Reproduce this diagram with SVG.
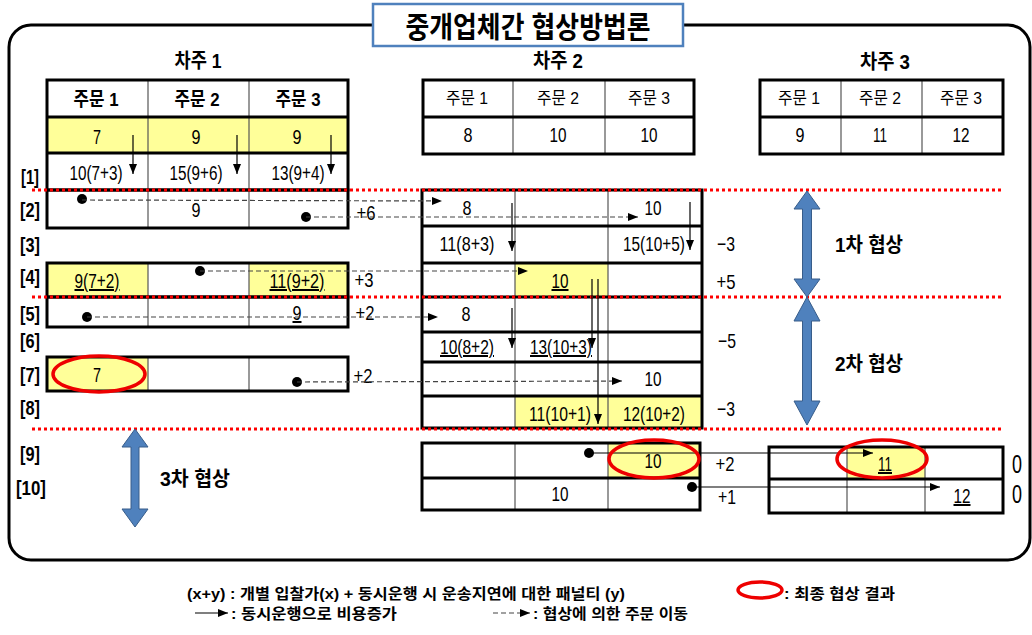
<svg xmlns="http://www.w3.org/2000/svg" width="1032" height="635" viewBox="0 0 1032 635">
<style>
text{font-family:"Liberation Sans","Noto Sans CJK KR",sans-serif;fill:#000}
.ti{font-size:29px;font-weight:bold;text-anchor:middle}
.cap{font-size:20px;font-weight:bold;text-anchor:middle}
.hb{font-size:19px;font-weight:bold;text-anchor:middle}
.hn{font-size:17px;text-anchor:middle}
.v{font-size:20px;text-anchor:middle}
.u{text-decoration:underline}
.rl{font-size:20px;font-weight:bold;text-anchor:middle}
.d{font-size:21px;text-anchor:middle}
.z{font-size:25px;text-anchor:middle}
.ng{font-size:20px;font-weight:bold;text-anchor:middle}
.lg{font-size:15px;font-weight:bold}
.box{fill:none;stroke:#000;stroke-width:3}
.hl{stroke:#000;stroke-width:3}
.vl{stroke:#555;stroke-width:1.2}
.yel{fill:#FFFF99}
.red{stroke:#F00;stroke-width:3;stroke-dasharray:3 3;fill:none}
.dash{stroke:#444;stroke-width:1.2;stroke-dasharray:5 3;fill:none}
.sol{stroke:#000;stroke-width:1.2;fill:none}
.ell{fill:none;stroke:#E00;stroke-width:3.5}
.big{fill:#4F81BD;stroke:#385D8A;stroke-width:1}
</style>
<defs>
<marker id="ah" markerWidth="10" markerHeight="8" refX="10" refY="4" orient="auto" markerUnits="userSpaceOnUse"><path d="M0,0 L10,4 L0,8 z" fill="#000"/></marker>
</defs>
<rect x="9" y="25" width="1021" height="535" rx="22" fill="none" stroke="#000" stroke-width="3"/>
<g id="title">
<rect x="373" y="4" width="310" height="42" fill="#fff" stroke="#4F81BD" stroke-width="2.5"/>
<text class="ti" x="528" y="38" textLength="245" lengthAdjust="spacingAndGlyphs">중개업체간 협상방법론</text>
</g>
<g id="table1">
<text class="cap" x="198" y="68" textLength="47" lengthAdjust="spacingAndGlyphs">차주 1</text>
<rect class="yel" x="47" y="117" width="301" height="36"/>
<line class="vl" x1="148" y1="80" x2="148" y2="190"/><line class="vl" x1="249" y1="80" x2="249" y2="190"/>
<rect class="box" x="47" y="80" width="301" height="110"/>
<line class="hl" x1="47" y1="117" x2="348" y2="117"/><line class="hl" x1="47" y1="153" x2="348" y2="153"/>
<text class="hb" x="96" y="106" textLength="45" lengthAdjust="spacingAndGlyphs">주문 1</text><text class="hb" x="197" y="106" textLength="45" lengthAdjust="spacingAndGlyphs">주문 2</text><text class="hb" x="298" y="106" textLength="45" lengthAdjust="spacingAndGlyphs">주문 3</text>
<text class="v" x="97" y="144" textLength="8" lengthAdjust="spacingAndGlyphs">7</text><text class="v" x="196" y="144" textLength="9" lengthAdjust="spacingAndGlyphs">9</text><text class="v" x="297" y="144" textLength="9" lengthAdjust="spacingAndGlyphs">9</text>
<text class="v" x="96" y="180" textLength="53" lengthAdjust="spacingAndGlyphs">10(7+3)</text><text class="v" x="196" y="180" textLength="53" lengthAdjust="spacingAndGlyphs">15(9+6)</text><text class="v" x="298" y="180" textLength="53" lengthAdjust="spacingAndGlyphs">13(9+4)</text>
</g>
<g id="table1-r2">
<line class="vl" x1="148" y1="190" x2="148" y2="228"/><line class="vl" x1="249" y1="190" x2="249" y2="228"/>
<rect class="box" x="47" y="190" width="301" height="38"/>
<text class="v" x="196" y="217" textLength="9" lengthAdjust="spacingAndGlyphs">9</text>
</g>
<g id="table1-r4">
<rect class="yel" x="47" y="263" width="101" height="34"/><rect class="yel" x="249" y="263" width="99" height="34"/>
<line class="vl" x1="148" y1="263" x2="148" y2="297"/><line class="vl" x1="249" y1="263" x2="249" y2="297"/>
<rect class="box" x="47" y="263" width="301" height="34"/>
<text class="v u" x="97" y="288" textLength="45" lengthAdjust="spacingAndGlyphs">9(7+2)</text><text class="v u" x="297" y="288" textLength="55" lengthAdjust="spacingAndGlyphs">11(9+2)</text>
</g>
<g id="table1-r5">
<line class="vl" x1="148" y1="297" x2="148" y2="327"/><line class="vl" x1="249" y1="297" x2="249" y2="327"/>
<rect class="box" x="47" y="297" width="301" height="30"/>
<text class="v u" x="297" y="320" textLength="9" lengthAdjust="spacingAndGlyphs">9</text>
</g>
<g id="table1-r7">
<rect class="yel" x="47" y="357" width="101" height="34"/>
<line class="vl" x1="148" y1="357" x2="148" y2="391"/><line class="vl" x1="249" y1="357" x2="249" y2="391"/>
<rect class="box" x="47" y="357" width="301" height="34"/>
<text class="v" x="97" y="382" textLength="8" lengthAdjust="spacingAndGlyphs">7</text>
<ellipse class="ell" cx="99" cy="374" rx="46" ry="18"/>
</g>
<g id="table2">
<text class="cap" x="558" y="68" textLength="50" lengthAdjust="spacingAndGlyphs">차주 2</text>
<line class="vl" x1="513" y1="80" x2="513" y2="154"/><line class="vl" x1="605" y1="80" x2="605" y2="154"/>
<rect class="box" x="423" y="80" width="271" height="74"/>
<line class="hl" x1="423" y1="117" x2="694" y2="117"/>
<text class="hn" x="467" y="104" textLength="42" lengthAdjust="spacingAndGlyphs">주문 1</text><text class="hn" x="558" y="104" textLength="42" lengthAdjust="spacingAndGlyphs">주문 2</text><text class="hn" x="649" y="104" textLength="42" lengthAdjust="spacingAndGlyphs">주문 3</text>
<text class="v" x="468" y="142" textLength="9" lengthAdjust="spacingAndGlyphs">8</text><text class="v" x="558" y="142" textLength="17" lengthAdjust="spacingAndGlyphs">10</text><text class="v" x="649" y="142" textLength="17" lengthAdjust="spacingAndGlyphs">10</text>
</g>
<g id="table3">
<text class="cap" x="885" y="69" textLength="50" lengthAdjust="spacingAndGlyphs">차주 3</text>
<line class="vl" x1="841" y1="80" x2="841" y2="154"/><line class="vl" x1="922" y1="80" x2="922" y2="154"/>
<rect class="box" x="760" y="80" width="243" height="74"/>
<line class="hl" x1="760" y1="117" x2="1003" y2="117"/>
<text class="hn" x="799" y="104" textLength="42" lengthAdjust="spacingAndGlyphs">주문 1</text><text class="hn" x="880" y="104" textLength="42" lengthAdjust="spacingAndGlyphs">주문 2</text><text class="hn" x="961" y="104" textLength="42" lengthAdjust="spacingAndGlyphs">주문 3</text>
<text class="v" x="800" y="142" textLength="9" lengthAdjust="spacingAndGlyphs">9</text><text class="v" x="880" y="142" textLength="14" lengthAdjust="spacingAndGlyphs">11</text><text class="v" x="961" y="142" textLength="17" lengthAdjust="spacingAndGlyphs">12</text>
</g>
<g id="table2-rounds">
<rect class="yel" x="515" y="263" width="93" height="34"/>
<rect class="yel" x="515" y="396" width="93" height="32"/><rect class="yel" x="608" y="396" width="94" height="32"/>
<line class="vl" x1="515" y1="190" x2="515" y2="428"/><line class="vl" x1="608" y1="190" x2="608" y2="428"/>
<rect class="box" x="422" y="190" width="280" height="238"/>
<line class="hl" x1="422" y1="226" x2="702" y2="226"/><line class="hl" x1="422" y1="263" x2="702" y2="263"/>
<line class="hl" x1="422" y1="297" x2="702" y2="297"/><line class="hl" x1="422" y1="332" x2="702" y2="332"/>
<line class="hl" x1="422" y1="362" x2="702" y2="362"/><line class="hl" x1="422" y1="396" x2="702" y2="396"/>
<text class="v" x="467" y="215" textLength="9" lengthAdjust="spacingAndGlyphs">8</text><text class="v" x="653" y="215" textLength="17" lengthAdjust="spacingAndGlyphs">10</text>
<text class="v" x="467" y="251" textLength="55" lengthAdjust="spacingAndGlyphs">11(8+3)</text><text class="v" x="654" y="251" textLength="62" lengthAdjust="spacingAndGlyphs">15(10+5)</text>
<text class="v u" x="560" y="288" textLength="17" lengthAdjust="spacingAndGlyphs">10</text>
<text class="v" x="466" y="321" textLength="9" lengthAdjust="spacingAndGlyphs">8</text>
<text class="v u" x="467" y="354" textLength="54" lengthAdjust="spacingAndGlyphs">10(8+2)</text><text class="v u" x="561" y="354" textLength="62" lengthAdjust="spacingAndGlyphs">13(10+3)</text>
<text class="v" x="653" y="386" textLength="17" lengthAdjust="spacingAndGlyphs">10</text>
<text class="v" x="560" y="421" textLength="62" lengthAdjust="spacingAndGlyphs">11(10+1)</text><text class="v" x="654" y="421" textLength="62" lengthAdjust="spacingAndGlyphs">12(10+2)</text>
</g>
<g id="table2-final">
<rect class="yel" x="608" y="443" width="92" height="35"/>
<line class="vl" x1="515" y1="443" x2="515" y2="510"/><line class="vl" x1="608" y1="443" x2="608" y2="510"/>
<rect class="box" x="422" y="443" width="278" height="67"/>
<line class="hl" x1="422" y1="478" x2="700" y2="478"/>
<text class="v" x="653" y="468" textLength="17" lengthAdjust="spacingAndGlyphs">10</text>
<text class="v" x="560" y="501" textLength="17" lengthAdjust="spacingAndGlyphs">10</text>
</g>
<g id="table3-final">
<rect class="yel" x="847" y="447" width="78" height="32"/>
<line class="vl" x1="847" y1="447" x2="847" y2="513"/><line class="vl" x1="925" y1="447" x2="925" y2="513"/>
<rect class="box" x="769" y="447" width="234" height="66"/>
<line class="hl" x1="769" y1="479" x2="1003" y2="479"/>
<text class="v u" x="885" y="471" textLength="14" lengthAdjust="spacingAndGlyphs">11</text>
<text class="v u" x="962" y="503" textLength="17" lengthAdjust="spacingAndGlyphs">12</text>
<text class="z" x="1017" y="473" textLength="10" lengthAdjust="spacingAndGlyphs">0</text><text class="z" x="1017" y="503" textLength="10" lengthAdjust="spacingAndGlyphs">0</text>
</g>
<g id="separators">
<line class="red" x1="32" y1="190" x2="1003" y2="190"/>
<line class="red" x1="32" y1="297" x2="1003" y2="297"/>
<line class="red" x1="32" y1="429" x2="1003" y2="429"/>
</g>
<g id="row-labels">
<text class="rl" x="30" y="184" textLength="18" lengthAdjust="spacingAndGlyphs">[1]</text>
<text class="rl" x="30" y="217" textLength="20" lengthAdjust="spacingAndGlyphs">[2]</text>
<text class="rl" x="30" y="252" textLength="20" lengthAdjust="spacingAndGlyphs">[3]</text>
<text class="rl" x="30" y="284" textLength="20" lengthAdjust="spacingAndGlyphs">[4]</text>
<text class="rl" x="30" y="321" textLength="20" lengthAdjust="spacingAndGlyphs">[5]</text>
<text class="rl" x="30" y="348" textLength="20" lengthAdjust="spacingAndGlyphs">[6]</text>
<text class="rl" x="30" y="382" textLength="20" lengthAdjust="spacingAndGlyphs">[7]</text>
<text class="rl" x="30" y="415" textLength="20" lengthAdjust="spacingAndGlyphs">[8]</text>
<text class="rl" x="30" y="461" textLength="20" lengthAdjust="spacingAndGlyphs">[9]</text>
<text class="rl" x="31" y="495" textLength="30" lengthAdjust="spacingAndGlyphs">[10]</text>
</g>
<g id="deltas">
<text class="d" x="366" y="220" textLength="19" lengthAdjust="spacingAndGlyphs">+6</text>
<text class="d" x="364" y="287" textLength="19" lengthAdjust="spacingAndGlyphs">+3</text>
<text class="d" x="365" y="320" textLength="19" lengthAdjust="spacingAndGlyphs">+2</text>
<text class="d" x="363" y="383" textLength="19" lengthAdjust="spacingAndGlyphs">+2</text>
<text class="d" x="726" y="251" textLength="18" lengthAdjust="spacingAndGlyphs">−3</text>
<text class="d" x="726" y="289" textLength="19" lengthAdjust="spacingAndGlyphs">+5</text>
<text class="d" x="727" y="348" textLength="18" lengthAdjust="spacingAndGlyphs">−5</text>
<text class="d" x="726" y="416" textLength="18" lengthAdjust="spacingAndGlyphs">−3</text>
<text class="d" x="725" y="471" textLength="19" lengthAdjust="spacingAndGlyphs">+2</text>
<text class="d" x="727" y="504" textLength="18" lengthAdjust="spacingAndGlyphs">+1</text>
</g>
<g id="negotiation">
<polygon class="big" points="807,191 820,209 811.5,209 811.5,279 820,279 807,297 794,279 802.5,279 802.5,209 794,209"/>
<text class="ng" x="869" y="252" textLength="68" lengthAdjust="spacingAndGlyphs">1차 협상</text>
<polygon class="big" points="807,297 820,321 811.5,321 811.5,401 820,401 807,425 794,401 802.5,401 802.5,321 794,321"/>
<text class="ng" x="869" y="371" textLength="68" lengthAdjust="spacingAndGlyphs">2차 협상</text>
<polygon class="big" points="135,429 148,447 139,447 139,509 148,509 135,527 122,509 131,509 131,447 122,447"/>
<text class="ng" x="195" y="486" textLength="70" lengthAdjust="spacingAndGlyphs">3차 협상</text>
</g>
<g id="connectors">
<line class="sol" x1="133" y1="135" x2="133" y2="174" marker-end="url(#ah)"/>
<line class="sol" x1="237" y1="135" x2="237" y2="174" marker-end="url(#ah)"/>
<line class="sol" x1="331" y1="135" x2="331" y2="174" marker-end="url(#ah)"/>
<line class="sol" x1="512" y1="203" x2="512" y2="251" marker-end="url(#ah)"/>
<line class="sol" x1="690" y1="202" x2="690" y2="250" marker-end="url(#ah)"/>
<line class="sol" x1="512" y1="308" x2="512" y2="348" marker-end="url(#ah)"/>
<line class="sol" x1="592" y1="279" x2="592" y2="348" marker-end="url(#ah)"/>
<line class="sol" x1="598" y1="279" x2="598" y2="424" marker-end="url(#ah)"/>
<circle cx="82" cy="199" r="5"/><line class="dash" x1="82" y1="200" x2="442" y2="201" marker-end="url(#ah)"/>
<circle cx="306" cy="217" r="5"/><line class="dash" x1="306" y1="217" x2="638" y2="217" marker-end="url(#ah)"/>
<circle cx="200" cy="271" r="5"/><line class="dash" x1="200" y1="271" x2="528" y2="271" marker-end="url(#ah)"/>
<circle cx="87" cy="317" r="5"/><line class="dash" x1="87" y1="317" x2="438" y2="317" marker-end="url(#ah)"/>
<circle cx="297" cy="382" r="5"/><line class="dash" x1="297" y1="382" x2="622" y2="381" marker-end="url(#ah)"/>
<circle cx="589" cy="453" r="5"/><line class="sol" x1="589" y1="453" x2="873" y2="453" marker-end="url(#ah)"/>
<circle cx="692" cy="487" r="5"/><line class="sol" x1="692" y1="487" x2="940" y2="487" marker-end="url(#ah)"/>
</g>
<g id="final-marks">
<ellipse class="ell" cx="654" cy="459" rx="45" ry="19"/>
<ellipse class="ell" cx="882" cy="459" rx="45" ry="19"/>
</g>
<g id="legend">
<text class="lg" x="187" y="599" textLength="438" lengthAdjust="spacingAndGlyphs">(x+y) : 개별 입찰가(x) + 동시운행 시 운송지연에 대한 패널티 (y)</text>
<ellipse class="ell" cx="760" cy="590" rx="22" ry="8" stroke-width="3"/>
<text class="lg" x="784" y="599" textLength="111" lengthAdjust="spacingAndGlyphs">: 최종 협상 결과</text>
<line class="sol" x1="195" y1="613" x2="228" y2="613" marker-end="url(#ah)"/>
<text class="lg" x="231" y="619" textLength="166" lengthAdjust="spacingAndGlyphs">: 동시운행으로 비용증가</text>
<line class="dash" x1="493" y1="613" x2="530" y2="613" marker-end="url(#ah)"/>
<text class="lg" x="533" y="619" textLength="155" lengthAdjust="spacingAndGlyphs">: 협상에 의한 주문 이동</text>
</g>
</svg>
